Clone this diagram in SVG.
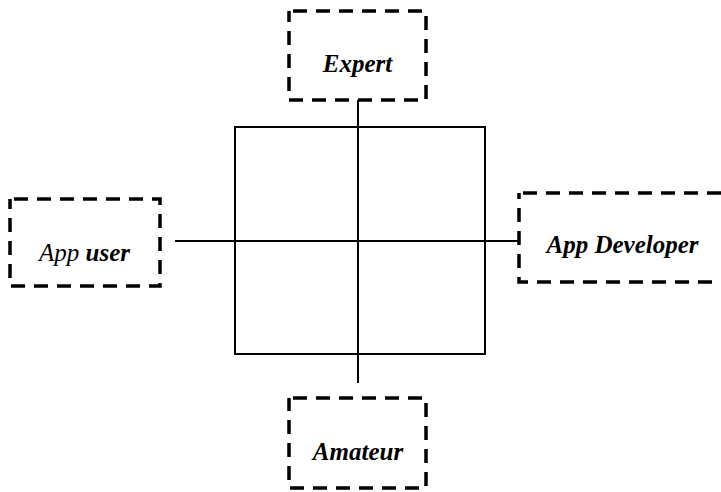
<svg xmlns="http://www.w3.org/2000/svg" width="721" height="492" viewBox="0 0 721 492">
  <style>
    .box { fill: none; stroke: #000; stroke-width: 3.5; stroke-dasharray: 14 9; stroke-dashoffset: 19; }
    .frame { fill: none; stroke: #000; stroke-width: 2; }
    .conn { stroke: #000; stroke-width: 2; fill: none; }
    .lbl { font-family: "Liberation Serif", "Times New Roman", serif; font-size: 25px; font-style: italic; font-weight: bold; text-anchor: middle; fill: #000; }
    .plain { font-weight: normal; }
  </style>
  <rect width="721" height="492" fill="#fff"/>
  <g id="quadrant">
    <rect class="frame" x="235" y="127" width="250" height="227"/>
  </g>
  <g id="connectors">
    <line class="conn" x1="358" y1="100" x2="358" y2="383"/>
    <line class="conn" x1="175" y1="241" x2="520" y2="241"/>
  </g>
  <g id="expert">
    <rect class="box" x="289" y="11" width="137" height="89"/>
    <text class="lbl" x="357.5" y="72">Expert</text>
  </g>
  <g id="app-user">
    <rect class="box" x="10" y="199" width="150" height="87"/>
    <text class="lbl" x="84.5" y="261"><tspan class="plain">App</tspan> user</text>
  </g>
  <g id="app-developer">
    <rect class="box" x="519" y="193" width="215" height="89"/>
    <text class="lbl" x="622.5" y="253">App Developer</text>
  </g>
  <g id="amateur">
    <rect class="box" x="289" y="398" width="137" height="90"/>
    <text class="lbl" x="358" y="460">Amateur</text>
  </g>
</svg>
